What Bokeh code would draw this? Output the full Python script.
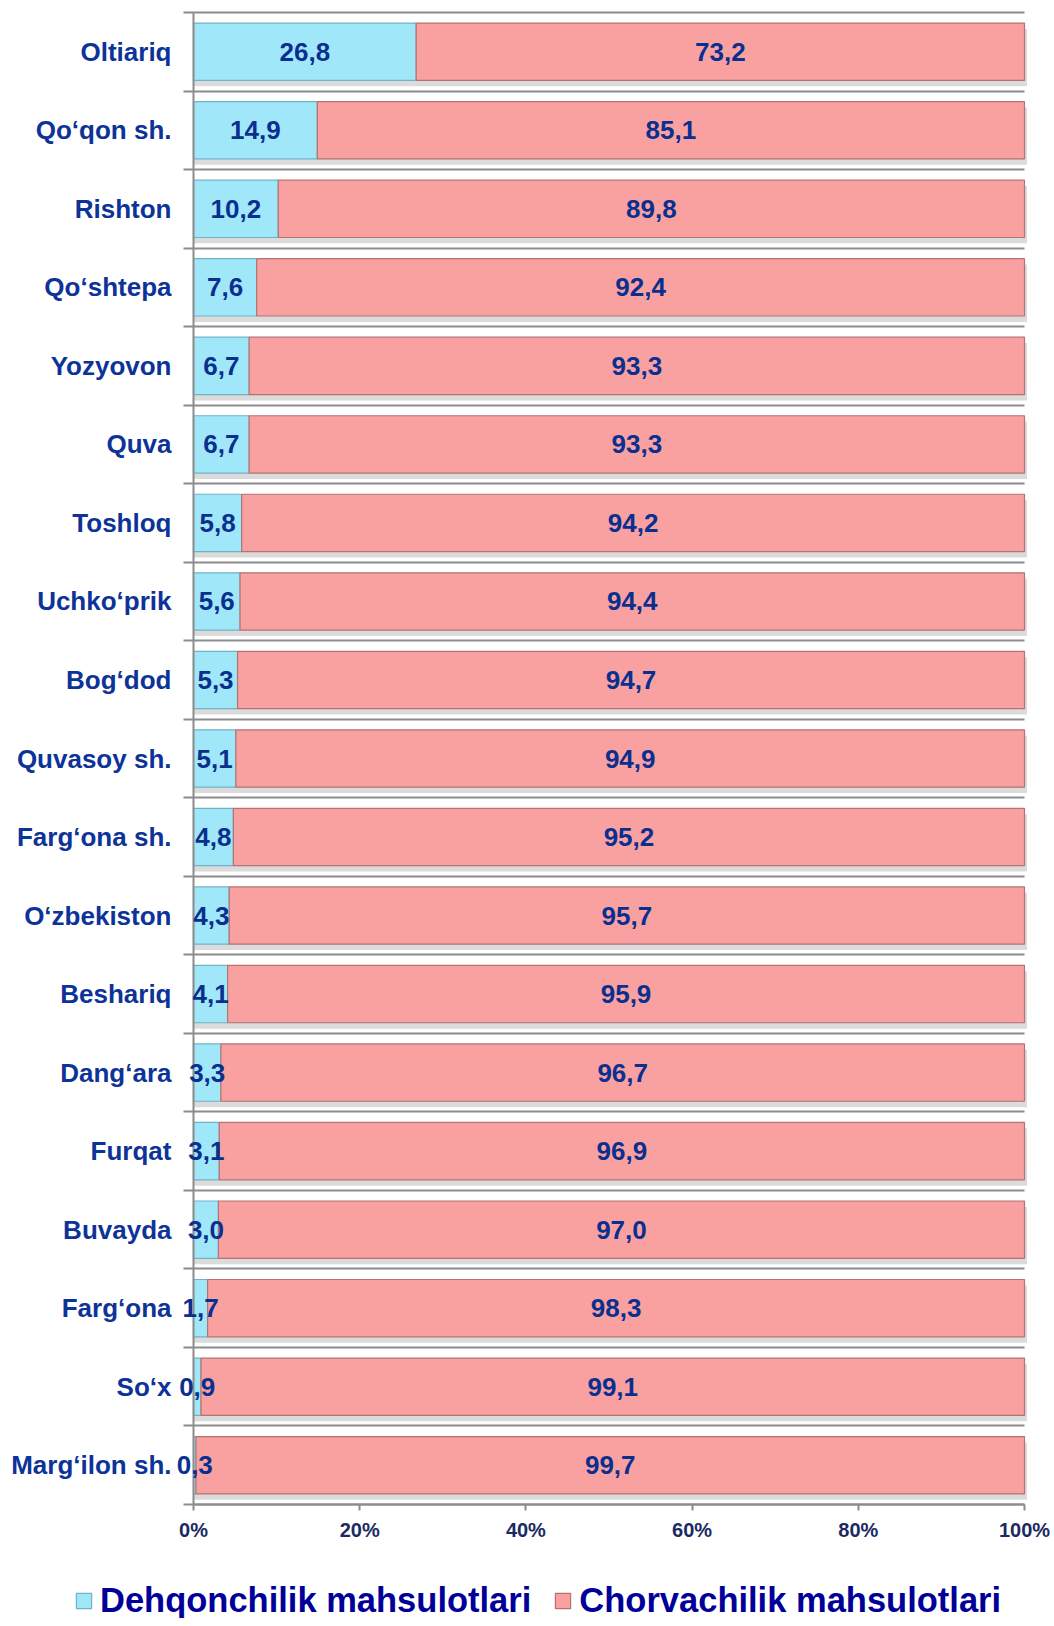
from bokeh.plotting import figure
from bokeh.models import (ColumnDataSource, Range1d, FixedTicker, LabelSet,
                          Legend, LegendItem, PrintfTickFormatter, LinearAxis, Grid)
from bokeh.core.properties import value
from bokeh.embed import file_html
from bokeh.resources import INLINE

# ---- data ----
categories = ["Oltiariq", "Qo‘qon sh.", "Rishton", "Qo‘shtepa", "Yozyovon", "Quva",
              "Toshloq", "Uchko‘prik", "Bog‘dod", "Quvasoy sh.", "Farg‘ona sh.",
              "O‘zbekiston", "Beshariq", "Dang‘ara", "Furqat", "Buvayda", "Farg‘ona",
              "So‘x", "Marg‘ilon sh."]
dehqonchilik = [26.8, 14.9, 10.2, 7.6, 6.7, 6.7, 5.8, 5.6, 5.3, 5.1, 4.8, 4.3, 4.1,
                3.3, 3.1, 3.0, 1.7, 0.9, 0.3]
chorvachilik = [73.2, 85.1, 89.8, 92.4, 93.3, 93.3, 94.2, 94.4, 94.7, 94.9, 95.2,
                95.7, 95.9, 96.7, 96.9, 97.0, 98.3, 99.1, 99.7]
series_names = ["Dehqonchilik mahsulotlari", "Chorvachilik mahsulotlari"]
x_ticks = [0, 20, 40, 60, 80, 100]

FONT = "Liberation Sans"
BLUE_FILL = "#A0E8F9"
BLUE_LINE = "#6FB3C8"
PINK_FILL = "#F9A1A1"
PINK_LINE = "#B47272"
LABEL_COLOR = "#0D3399"
VALUE_COLOR = "#0B2F8F"
AXIS_GREY = "#8C8C8C"

n = len(categories)
ypos = [n - 1 - i for i in range(n)]
fmt = lambda v: f"{v:.1f}".replace(".", ",")

# ---- layout (pixels) ----
W, H = 1052, 1618
PL, PR, PT, PB = 193, W - 1024, 12, H - 1504     # plotting area margins
px_x = (W - PL - PR) / 100.0
px_y = (H - PT - PB) / n
x_range = Range1d(-PL / px_x, 100 + PR / px_x)
y_range = Range1d(-0.5 - PB / px_y, n - 0.5 + PT / px_y)

src = ColumnDataSource(dict(
    y=ypos,
    y_shadow=[y - 0.075 for y in ypos],
    d=dehqonchilik,
    c_left=dehqonchilik,
    c_right=[a + b for a, b in zip(dehqonchilik, chorvachilik)],
    zero=[0] * n,
    full=[100.3] * n,
    d_mid=[v / 2 for v in dehqonchilik],
    c_mid=[a + b / 2 for a, b in zip(dehqonchilik, chorvachilik)],
    d_txt=[fmt(v) for v in dehqonchilik],
    c_txt=[fmt(v) for v in chorvachilik],
))

p = figure(width=W, height=H, output_backend="svg", toolbar_location=None,
           x_range=x_range, y_range=y_range,
           min_border_left=0, min_border_right=0, min_border_top=0,
           min_border_bottom=0, x_axis_location=None, y_axis_location=None)
p.outline_line_color = None
p.background_fill_color = "white"
p.border_fill_color = "white"

yaxis = LinearAxis(fixed_location=0, bounds=(-0.5, n - 0.5))
xaxis = LinearAxis(fixed_location=-0.5, bounds=(0, 100))
p.add_layout(yaxis, "left")
p.add_layout(xaxis, "below")

BAR_H = 0.73
# shadow
p.hbar(y="y_shadow", left="zero", right="full", height=BAR_H, source=src,
       fill_color="#BDBDBD", fill_alpha=0.55, line_color=None)
r1 = p.hbar(y="y", left="zero", right="d", height=BAR_H, source=src,
            fill_color=BLUE_FILL, line_color=BLUE_LINE, line_width=1.2)
r2 = p.hbar(y="y", left="c_left", right="c_right", height=BAR_H, source=src,
            fill_color=PINK_FILL, line_color=PINK_LINE, line_width=1.2)

# value labels
for xcol, tcol in (("d_mid", "d_txt"), ("c_mid", "c_txt")):
    p.add_layout(LabelSet(x=xcol, y="y", text=tcol, source=src,
                          text_align="center", text_baseline="middle",
                          text_font=value(FONT), text_font_style="bold",
                          text_font_size="26px", text_color=VALUE_COLOR))

# y axis
yaxis.ticker = FixedTicker(ticks=ypos, minor_ticks=[k - 0.5 for k in range(n + 1)])
yaxis.major_label_overrides = {y: c for y, c in zip(ypos, categories)}
yaxis.major_tick_out = 0
yaxis.major_tick_in = 0
yaxis.minor_tick_out = 10
yaxis.minor_tick_in = 0
yaxis.minor_tick_line_color = AXIS_GREY
yaxis.minor_tick_line_width = 2
yaxis.axis_line_color = AXIS_GREY
yaxis.axis_line_width = 2
yaxis.major_label_standoff = 12
yaxis.major_label_text_font = FONT
yaxis.major_label_text_font_style = "bold"
yaxis.major_label_text_font_size = "26px"
yaxis.major_label_text_color = LABEL_COLOR

# x axis
xaxis.ticker = FixedTicker(ticks=x_ticks, minor_ticks=[])
xaxis.formatter = PrintfTickFormatter(format="%d%%")
xaxis.axis_line_color = AXIS_GREY
xaxis.axis_line_width = 2
xaxis.major_tick_line_color = AXIS_GREY
xaxis.major_tick_line_width = 2
xaxis.major_tick_out = 6
xaxis.major_tick_in = 0
xaxis.major_label_standoff = 8
xaxis.major_label_text_font = FONT
xaxis.major_label_text_font_style = "bold"
xaxis.major_label_text_font_size = "20px"
xaxis.major_label_text_color = "#1B2A63"

# grids (category boundaries)
p.xgrid.visible = False
p.ygrid.visible = False
g = Grid(dimension=1, ticker=FixedTicker(ticks=[k - 0.5 for k in range(n + 1)]),
         grid_line_color=AXIS_GREY, grid_line_width=2, cross_bounds=(0, 100))
p.add_layout(g)

legend = Legend(items=[LegendItem(label=series_names[0], renderers=[r1]),
                       LegendItem(label=series_names[1], renderers=[r2])],
                orientation="horizontal", location=(74, -2),
                glyph_width=19, glyph_height=19, label_standoff=7, spacing=22,
                padding=0, margin=0, border_line_color=None,
                background_fill_alpha=0,
                label_text_font=FONT, label_text_font_style="bold",
                label_text_font_size="34.5px", label_text_color="#000099")
p.add_layout(legend, "center")

open("out.html", "w").write(file_html(p, INLINE))
